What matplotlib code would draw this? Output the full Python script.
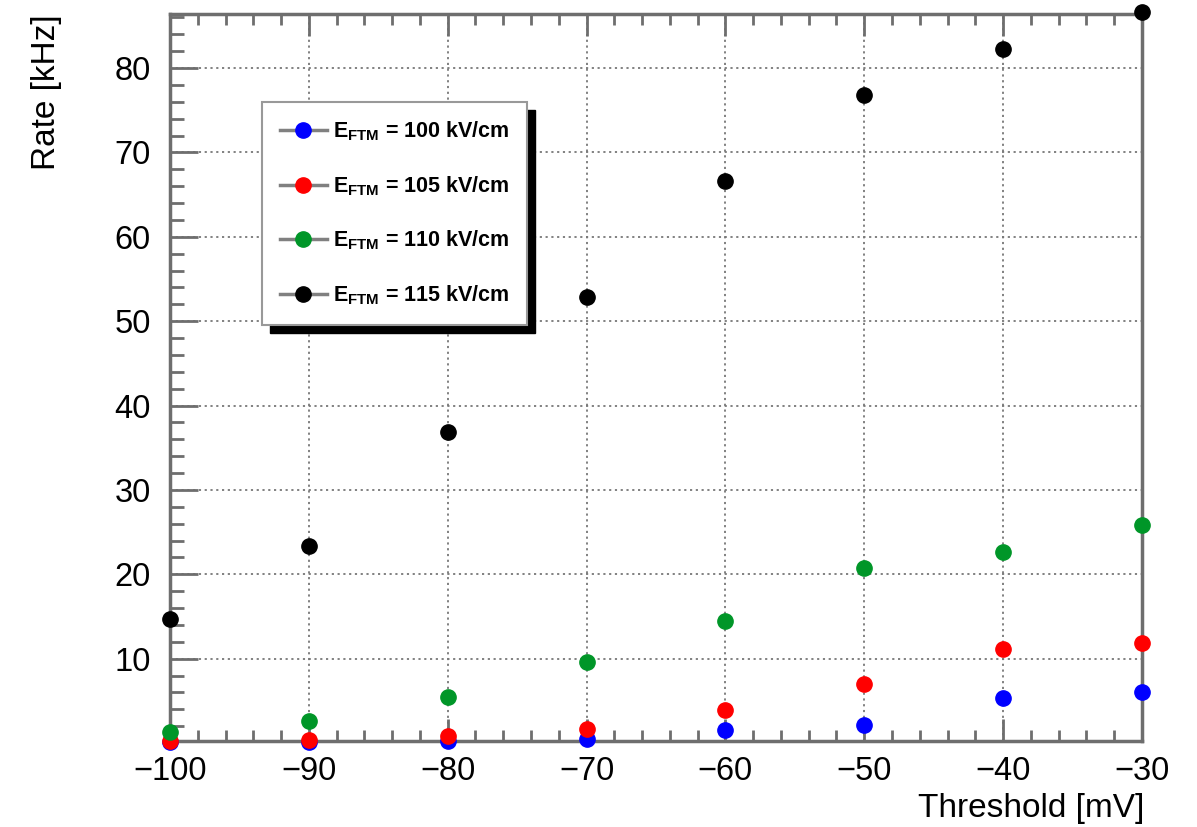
import matplotlib
matplotlib.use('Agg')
import matplotlib.pyplot as plt
from matplotlib.lines import Line2D
from matplotlib.patches import Rectangle
from matplotlib.ticker import MultipleLocator
import numpy as np

plt.rcParams['font.family'] = ['Liberation Sans', 'DejaVu Sans']
plt.rcParams['mathtext.fontset'] = 'custom'
plt.rcParams['mathtext.rm'] = 'Liberation Sans'
plt.rcParams['mathtext.bf'] = 'Liberation Sans:bold'

# threshold scan [mV] and measured rates [kHz]
threshold = [-100, -90, -80, -70, -60, -50, -40, -30]
rate_100 = [0.15, 0.15, 0.3, 0.5, 1.6, 2.2, 5.3, 6.0]
rate_105 = [0.3, 0.4, 0.9, 1.7, 3.95, 7.0, 11.2, 11.9]
rate_110 = [1.35, 2.6, 5.5, 9.6, 14.5, 20.8, 22.6, 25.8]
rate_115 = [14.7, 23.4, 36.9, 52.9, 66.6, 76.8, 82.2, 86.6]

fields = ['100', '105', '110', '115']
colors = ['#0000ff', '#ff0000', '#009628', '#000000']
series = [rate_100, rate_105, rate_110, rate_115]

frame_col = '#6e6e6e'

fig = plt.figure(figsize=(11.97, 8.27), dpi=100)
ax = fig.add_axes([0.142, 0.104, 0.812, 0.879])

for y, c in zip(series, colors):
    ax.plot(threshold, y, 'o', color=c, ms=11, mec=c, clip_on=False, zorder=3)

ax.set_xlim(-100, -30)
ax.set_ylim(0.25, 86.4)
ax.xaxis.set_major_locator(MultipleLocator(10))
ax.xaxis.set_minor_locator(MultipleLocator(2))
ax.yaxis.set_major_locator(MultipleLocator(10))
ax.yaxis.set_minor_locator(MultipleLocator(2))

ax.grid(True, which='major', color='#777777', linestyle=(0, (1.2, 2.0)), lw=1.3)

for s in ax.spines.values():
    s.set_color(frame_col)
    s.set_linewidth(2.5)

ax.tick_params(axis='both', which='both', direction='in', colors=frame_col,
               labelcolor='black', labelsize=23.5)
ax.tick_params(axis='x', which='both', top=True)
ax.tick_params(axis='x', which='major', length=16, width=2, pad=11)
ax.tick_params(axis='x', which='minor', length=8, width=2)
ax.tick_params(axis='y', which='major', length=20, width=2, pad=14)
ax.tick_params(axis='y', which='minor', length=10, width=2)

ax.set_xlabel('Threshold [mV]', fontsize=24, loc='right')
ax.xaxis.set_label_coords(1.003, -0.072)
ax.set_ylabel('Rate [kHz]', fontsize=24, loc='top')
ax.yaxis.set_label_coords(-0.111, 1.0)

handles = [Line2D([], [], color='#808080', lw=2.5, marker='o', ms=11,
                  mfc=c, mec=c) for c in colors]
labels = [r'$\mathbf{E}_{\mathbf{FTM}}$ = ' + f + ' kV/cm' for f in fields]
leg = ax.legend(handles, labels, loc='upper left', bbox_to_anchor=(0.095, 0.879),
                borderaxespad=0, fancybox=False, edgecolor='#999999',
                framealpha=1, handlelength=2.2, handletextpad=0.3,
                labelspacing=1.45, borderpad=0.8,
                prop={'weight': 'bold', 'size': 15.5})
leg.get_frame().set_linewidth(1.5)
leg.set_zorder(6)

# black drop shadow under the legend box
fig.canvas.draw()
bb = leg.get_window_extent().transformed(ax.transAxes.inverted())
dx = 8 / (0.812 * 1197)
dy = 8 / (0.879 * 827)
ax.add_patch(Rectangle((bb.x0 + dx, bb.y0 - dy), bb.width, bb.height,
                       transform=ax.transAxes, color='black', zorder=5.5,
                       clip_on=False))

fig.savefig('out.png', dpi=100)
